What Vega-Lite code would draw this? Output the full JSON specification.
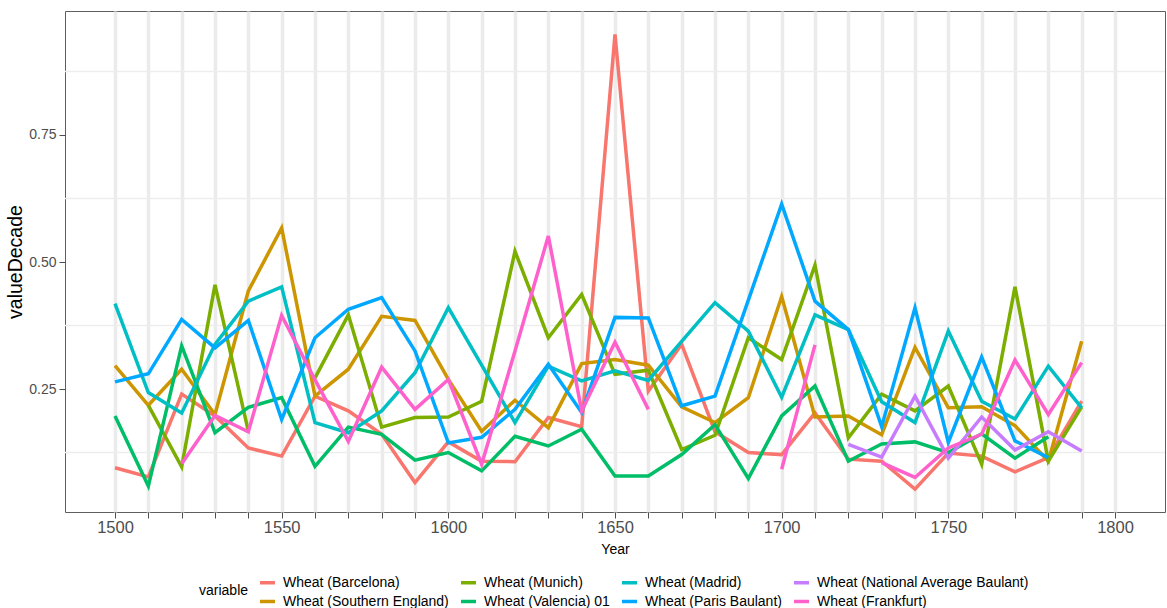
{
  "$schema": "https://vega.github.io/schema/vega-lite/v6.json",
  "width": 1100,
  "height": 501,
  "autosize": {"type": "none"},
  "padding": {"left": 65, "top": 11, "right": 2, "bottom": 96},
  "background": "white",
  "config": {
    "font": "Liberation Sans",
    "view": {"stroke": "#5e5e5e", "strokeWidth": 1}
  },
  "resolve": {"axis": {"y": "independent"}},
  "datasets": {
    "minor": [{"grid": 0.125}, {"grid": 0.375}, {"grid": 0.625}, {"grid": 0.875}],
    "prices": [
      {"Year": 1500, "variable": "Wheat (Barcelona)", "valueDecade": 0.095},
      {"Year": 1510, "variable": "Wheat (Barcelona)", "valueDecade": 0.077},
      {"Year": 1520, "variable": "Wheat (Barcelona)", "valueDecade": 0.240},
      {"Year": 1530, "variable": "Wheat (Barcelona)", "valueDecade": 0.197},
      {"Year": 1540, "variable": "Wheat (Barcelona)", "valueDecade": 0.134},
      {"Year": 1550, "variable": "Wheat (Barcelona)", "valueDecade": 0.118},
      {"Year": 1560, "variable": "Wheat (Barcelona)", "valueDecade": 0.236},
      {"Year": 1570, "variable": "Wheat (Barcelona)", "valueDecade": 0.207},
      {"Year": 1580, "variable": "Wheat (Barcelona)", "valueDecade": 0.161},
      {"Year": 1590, "variable": "Wheat (Barcelona)", "valueDecade": 0.066},
      {"Year": 1600, "variable": "Wheat (Barcelona)", "valueDecade": 0.146},
      {"Year": 1610, "variable": "Wheat (Barcelona)", "valueDecade": 0.108},
      {"Year": 1620, "variable": "Wheat (Barcelona)", "valueDecade": 0.107},
      {"Year": 1630, "variable": "Wheat (Barcelona)", "valueDecade": 0.194},
      {"Year": 1640, "variable": "Wheat (Barcelona)", "valueDecade": 0.176},
      {"Year": 1650, "variable": "Wheat (Barcelona)", "valueDecade": 0.948},
      {"Year": 1660, "variable": "Wheat (Barcelona)", "valueDecade": 0.246},
      {"Year": 1670, "variable": "Wheat (Barcelona)", "valueDecade": 0.338},
      {"Year": 1680, "variable": "Wheat (Barcelona)", "valueDecade": 0.166},
      {"Year": 1690, "variable": "Wheat (Barcelona)", "valueDecade": 0.125},
      {"Year": 1700, "variable": "Wheat (Barcelona)", "valueDecade": 0.121},
      {"Year": 1710, "variable": "Wheat (Barcelona)", "valueDecade": 0.203},
      {"Year": 1720, "variable": "Wheat (Barcelona)", "valueDecade": 0.112},
      {"Year": 1730, "variable": "Wheat (Barcelona)", "valueDecade": 0.108},
      {"Year": 1740, "variable": "Wheat (Barcelona)", "valueDecade": 0.053},
      {"Year": 1750, "variable": "Wheat (Barcelona)", "valueDecade": 0.124},
      {"Year": 1760, "variable": "Wheat (Barcelona)", "valueDecade": 0.118},
      {"Year": 1770, "variable": "Wheat (Barcelona)", "valueDecade": 0.087},
      {"Year": 1780, "variable": "Wheat (Barcelona)", "valueDecade": 0.115},
      {"Year": 1790, "variable": "Wheat (Barcelona)", "valueDecade": 0.226},

      {"Year": 1500, "variable": "Wheat (Southern England)", "valueDecade": 0.296},
      {"Year": 1510, "variable": "Wheat (Southern England)", "valueDecade": 0.218},
      {"Year": 1520, "variable": "Wheat (Southern England)", "valueDecade": 0.289},
      {"Year": 1530, "variable": "Wheat (Southern England)", "valueDecade": 0.200},
      {"Year": 1540, "variable": "Wheat (Southern England)", "valueDecade": 0.443},
      {"Year": 1550, "variable": "Wheat (Southern England)", "valueDecade": 0.567},
      {"Year": 1560, "variable": "Wheat (Southern England)", "valueDecade": 0.236},
      {"Year": 1570, "variable": "Wheat (Southern England)", "valueDecade": 0.289},
      {"Year": 1580, "variable": "Wheat (Southern England)", "valueDecade": 0.393},
      {"Year": 1590, "variable": "Wheat (Southern England)", "valueDecade": 0.385},
      {"Year": 1600, "variable": "Wheat (Southern England)", "valueDecade": 0.269},
      {"Year": 1610, "variable": "Wheat (Southern England)", "valueDecade": 0.167},
      {"Year": 1620, "variable": "Wheat (Southern England)", "valueDecade": 0.228},
      {"Year": 1630, "variable": "Wheat (Southern England)", "valueDecade": 0.174},
      {"Year": 1640, "variable": "Wheat (Southern England)", "valueDecade": 0.300},
      {"Year": 1650, "variable": "Wheat (Southern England)", "valueDecade": 0.308},
      {"Year": 1660, "variable": "Wheat (Southern England)", "valueDecade": 0.297},
      {"Year": 1670, "variable": "Wheat (Southern England)", "valueDecade": 0.215},
      {"Year": 1680, "variable": "Wheat (Southern England)", "valueDecade": 0.184},
      {"Year": 1690, "variable": "Wheat (Southern England)", "valueDecade": 0.233},
      {"Year": 1700, "variable": "Wheat (Southern England)", "valueDecade": 0.432},
      {"Year": 1710, "variable": "Wheat (Southern England)", "valueDecade": 0.195},
      {"Year": 1720, "variable": "Wheat (Southern England)", "valueDecade": 0.197},
      {"Year": 1730, "variable": "Wheat (Southern England)", "valueDecade": 0.160},
      {"Year": 1740, "variable": "Wheat (Southern England)", "valueDecade": 0.332},
      {"Year": 1750, "variable": "Wheat (Southern England)", "valueDecade": 0.213},
      {"Year": 1760, "variable": "Wheat (Southern England)", "valueDecade": 0.215},
      {"Year": 1770, "variable": "Wheat (Southern England)", "valueDecade": 0.178},
      {"Year": 1780, "variable": "Wheat (Southern England)", "valueDecade": 0.108},
      {"Year": 1790, "variable": "Wheat (Southern England)", "valueDecade": 0.344},

      {"Year": 1510, "variable": "Wheat (Munich)", "valueDecade": 0.218},
      {"Year": 1520, "variable": "Wheat (Munich)", "valueDecade": 0.097},
      {"Year": 1530, "variable": "Wheat (Munich)", "valueDecade": 0.455},
      {"Year": 1540, "variable": "Wheat (Munich)", "valueDecade": 0.167},
      {"Year": 1550, "variable": "Wheat (Munich)", "valueDecade": null},
      {"Year": 1560, "variable": "Wheat (Munich)", "valueDecade": 0.272},
      {"Year": 1570, "variable": "Wheat (Munich)", "valueDecade": 0.396},
      {"Year": 1580, "variable": "Wheat (Munich)", "valueDecade": 0.175},
      {"Year": 1590, "variable": "Wheat (Munich)", "valueDecade": 0.194},
      {"Year": 1600, "variable": "Wheat (Munich)", "valueDecade": 0.195},
      {"Year": 1610, "variable": "Wheat (Munich)", "valueDecade": 0.226},
      {"Year": 1620, "variable": "Wheat (Munich)", "valueDecade": 0.521},
      {"Year": 1630, "variable": "Wheat (Munich)", "valueDecade": 0.351},
      {"Year": 1640, "variable": "Wheat (Munich)", "valueDecade": 0.436},
      {"Year": 1650, "variable": "Wheat (Munich)", "valueDecade": 0.279},
      {"Year": 1660, "variable": "Wheat (Munich)", "valueDecade": 0.287},
      {"Year": 1670, "variable": "Wheat (Munich)", "valueDecade": 0.131},
      {"Year": 1680, "variable": "Wheat (Munich)", "valueDecade": 0.159},
      {"Year": 1690, "variable": "Wheat (Munich)", "valueDecade": 0.351},
      {"Year": 1700, "variable": "Wheat (Munich)", "valueDecade": 0.308},
      {"Year": 1710, "variable": "Wheat (Munich)", "valueDecade": 0.494},
      {"Year": 1720, "variable": "Wheat (Munich)", "valueDecade": 0.154},
      {"Year": 1730, "variable": "Wheat (Munich)", "valueDecade": 0.240},
      {"Year": 1740, "variable": "Wheat (Munich)", "valueDecade": 0.207},
      {"Year": 1750, "variable": "Wheat (Munich)", "valueDecade": 0.256},
      {"Year": 1760, "variable": "Wheat (Munich)", "valueDecade": 0.102},
      {"Year": 1770, "variable": "Wheat (Munich)", "valueDecade": 0.451},
      {"Year": 1780, "variable": "Wheat (Munich)", "valueDecade": 0.108},
      {"Year": 1790, "variable": "Wheat (Munich)", "valueDecade": 0.215},

      {"Year": 1500, "variable": "Wheat (Valencia) 01", "valueDecade": 0.197},
      {"Year": 1510, "variable": "Wheat (Valencia) 01", "valueDecade": 0.059},
      {"Year": 1520, "variable": "Wheat (Valencia) 01", "valueDecade": 0.335},
      {"Year": 1530, "variable": "Wheat (Valencia) 01", "valueDecade": 0.164},
      {"Year": 1540, "variable": "Wheat (Valencia) 01", "valueDecade": 0.214},
      {"Year": 1550, "variable": "Wheat (Valencia) 01", "valueDecade": 0.233},
      {"Year": 1560, "variable": "Wheat (Valencia) 01", "valueDecade": 0.098},
      {"Year": 1570, "variable": "Wheat (Valencia) 01", "valueDecade": 0.175},
      {"Year": 1580, "variable": "Wheat (Valencia) 01", "valueDecade": 0.161},
      {"Year": 1590, "variable": "Wheat (Valencia) 01", "valueDecade": 0.110},
      {"Year": 1600, "variable": "Wheat (Valencia) 01", "valueDecade": 0.125},
      {"Year": 1610, "variable": "Wheat (Valencia) 01", "valueDecade": 0.089},
      {"Year": 1620, "variable": "Wheat (Valencia) 01", "valueDecade": 0.157},
      {"Year": 1630, "variable": "Wheat (Valencia) 01", "valueDecade": 0.138},
      {"Year": 1640, "variable": "Wheat (Valencia) 01", "valueDecade": 0.171},
      {"Year": 1650, "variable": "Wheat (Valencia) 01", "valueDecade": 0.079},
      {"Year": 1660, "variable": "Wheat (Valencia) 01", "valueDecade": 0.079},
      {"Year": 1670, "variable": "Wheat (Valencia) 01", "valueDecade": 0.121},
      {"Year": 1680, "variable": "Wheat (Valencia) 01", "valueDecade": 0.180},
      {"Year": 1690, "variable": "Wheat (Valencia) 01", "valueDecade": 0.074},
      {"Year": 1700, "variable": "Wheat (Valencia) 01", "valueDecade": 0.197},
      {"Year": 1710, "variable": "Wheat (Valencia) 01", "valueDecade": 0.256},
      {"Year": 1720, "variable": "Wheat (Valencia) 01", "valueDecade": 0.108},
      {"Year": 1730, "variable": "Wheat (Valencia) 01", "valueDecade": 0.142},
      {"Year": 1740, "variable": "Wheat (Valencia) 01", "valueDecade": 0.146},
      {"Year": 1750, "variable": "Wheat (Valencia) 01", "valueDecade": 0.125},
      {"Year": 1760, "variable": "Wheat (Valencia) 01", "valueDecade": 0.162},
      {"Year": 1770, "variable": "Wheat (Valencia) 01", "valueDecade": 0.114},
      {"Year": 1780, "variable": "Wheat (Valencia) 01", "valueDecade": 0.156},

      {"Year": 1500, "variable": "Wheat (Madrid)", "valueDecade": 0.418},
      {"Year": 1510, "variable": "Wheat (Madrid)", "valueDecade": 0.243},
      {"Year": 1520, "variable": "Wheat (Madrid)", "valueDecade": 0.203},
      {"Year": 1530, "variable": "Wheat (Madrid)", "valueDecade": 0.338},
      {"Year": 1540, "variable": "Wheat (Madrid)", "valueDecade": 0.423},
      {"Year": 1550, "variable": "Wheat (Madrid)", "valueDecade": 0.451},
      {"Year": 1560, "variable": "Wheat (Madrid)", "valueDecade": 0.184},
      {"Year": 1570, "variable": "Wheat (Madrid)", "valueDecade": 0.164},
      {"Year": 1580, "variable": "Wheat (Madrid)", "valueDecade": 0.207},
      {"Year": 1590, "variable": "Wheat (Madrid)", "valueDecade": 0.282},
      {"Year": 1600, "variable": "Wheat (Madrid)", "valueDecade": 0.410},
      {"Year": 1610, "variable": "Wheat (Madrid)", "valueDecade": 0.297},
      {"Year": 1620, "variable": "Wheat (Madrid)", "valueDecade": 0.184},
      {"Year": 1630, "variable": "Wheat (Madrid)", "valueDecade": 0.295},
      {"Year": 1640, "variable": "Wheat (Madrid)", "valueDecade": 0.266},
      {"Year": 1650, "variable": "Wheat (Madrid)", "valueDecade": 0.286},
      {"Year": 1660, "variable": "Wheat (Madrid)", "valueDecade": 0.267},
      {"Year": 1670, "variable": "Wheat (Madrid)", "valueDecade": 0.344},
      {"Year": 1680, "variable": "Wheat (Madrid)", "valueDecade": 0.420},
      {"Year": 1690, "variable": "Wheat (Madrid)", "valueDecade": 0.364},
      {"Year": 1700, "variable": "Wheat (Madrid)", "valueDecade": 0.234},
      {"Year": 1710, "variable": "Wheat (Madrid)", "valueDecade": 0.396},
      {"Year": 1720, "variable": "Wheat (Madrid)", "valueDecade": 0.367},
      {"Year": 1730, "variable": "Wheat (Madrid)", "valueDecade": 0.225},
      {"Year": 1740, "variable": "Wheat (Madrid)", "valueDecade": 0.184},
      {"Year": 1750, "variable": "Wheat (Madrid)", "valueDecade": 0.364},
      {"Year": 1760, "variable": "Wheat (Madrid)", "valueDecade": 0.226},
      {"Year": 1770, "variable": "Wheat (Madrid)", "valueDecade": 0.191},
      {"Year": 1780, "variable": "Wheat (Madrid)", "valueDecade": 0.295},
      {"Year": 1790, "variable": "Wheat (Madrid)", "valueDecade": 0.213},

      {"Year": 1500, "variable": "Wheat (Paris Baulant)", "valueDecade": 0.264},
      {"Year": 1510, "variable": "Wheat (Paris Baulant)", "valueDecade": 0.280},
      {"Year": 1520, "variable": "Wheat (Paris Baulant)", "valueDecade": 0.387},
      {"Year": 1530, "variable": "Wheat (Paris Baulant)", "valueDecade": 0.331},
      {"Year": 1540, "variable": "Wheat (Paris Baulant)", "valueDecade": 0.385},
      {"Year": 1550, "variable": "Wheat (Paris Baulant)", "valueDecade": 0.190},
      {"Year": 1560, "variable": "Wheat (Paris Baulant)", "valueDecade": 0.351},
      {"Year": 1570, "variable": "Wheat (Paris Baulant)", "valueDecade": 0.407},
      {"Year": 1580, "variable": "Wheat (Paris Baulant)", "valueDecade": 0.430},
      {"Year": 1590, "variable": "Wheat (Paris Baulant)", "valueDecade": 0.325},
      {"Year": 1600, "variable": "Wheat (Paris Baulant)", "valueDecade": 0.144},
      {"Year": 1610, "variable": "Wheat (Paris Baulant)", "valueDecade": 0.155},
      {"Year": 1620, "variable": "Wheat (Paris Baulant)", "valueDecade": 0.210},
      {"Year": 1630, "variable": "Wheat (Paris Baulant)", "valueDecade": 0.299},
      {"Year": 1640, "variable": "Wheat (Paris Baulant)", "valueDecade": 0.204},
      {"Year": 1650, "variable": "Wheat (Paris Baulant)", "valueDecade": 0.391},
      {"Year": 1660, "variable": "Wheat (Paris Baulant)", "valueDecade": 0.390},
      {"Year": 1670, "variable": "Wheat (Paris Baulant)", "valueDecade": 0.217},
      {"Year": 1680, "variable": "Wheat (Paris Baulant)", "valueDecade": 0.236},
      {"Year": 1690, "variable": "Wheat (Paris Baulant)", "valueDecade": 0.425},
      {"Year": 1700, "variable": "Wheat (Paris Baulant)", "valueDecade": 0.614},
      {"Year": 1710, "variable": "Wheat (Paris Baulant)", "valueDecade": 0.423},
      {"Year": 1720, "variable": "Wheat (Paris Baulant)", "valueDecade": 0.367},
      {"Year": 1730, "variable": "Wheat (Paris Baulant)", "valueDecade": 0.176},
      {"Year": 1740, "variable": "Wheat (Paris Baulant)", "valueDecade": 0.410},
      {"Year": 1750, "variable": "Wheat (Paris Baulant)", "valueDecade": 0.145},
      {"Year": 1760, "variable": "Wheat (Paris Baulant)", "valueDecade": 0.313},
      {"Year": 1770, "variable": "Wheat (Paris Baulant)", "valueDecade": 0.148},
      {"Year": 1780, "variable": "Wheat (Paris Baulant)", "valueDecade": 0.115},

      {"Year": 1720, "variable": "Wheat (National Average Baulant)", "valueDecade": 0.141},
      {"Year": 1730, "variable": "Wheat (National Average Baulant)", "valueDecade": 0.116},
      {"Year": 1740, "variable": "Wheat (National Average Baulant)", "valueDecade": 0.236},
      {"Year": 1750, "variable": "Wheat (National Average Baulant)", "valueDecade": 0.114},
      {"Year": 1760, "variable": "Wheat (National Average Baulant)", "valueDecade": 0.195},
      {"Year": 1770, "variable": "Wheat (National Average Baulant)", "valueDecade": 0.130},
      {"Year": 1780, "variable": "Wheat (National Average Baulant)", "valueDecade": 0.166},
      {"Year": 1790, "variable": "Wheat (National Average Baulant)", "valueDecade": 0.128},

      {"Year": 1520, "variable": "Wheat (Frankfurt)", "valueDecade": 0.103},
      {"Year": 1530, "variable": "Wheat (Frankfurt)", "valueDecade": 0.198},
      {"Year": 1540, "variable": "Wheat (Frankfurt)", "valueDecade": 0.166},
      {"Year": 1550, "variable": "Wheat (Frankfurt)", "valueDecade": 0.395},
      {"Year": 1560, "variable": "Wheat (Frankfurt)", "valueDecade": 0.268},
      {"Year": 1570, "variable": "Wheat (Frankfurt)", "valueDecade": 0.147},
      {"Year": 1580, "variable": "Wheat (Frankfurt)", "valueDecade": 0.293},
      {"Year": 1590, "variable": "Wheat (Frankfurt)", "valueDecade": 0.210},
      {"Year": 1600, "variable": "Wheat (Frankfurt)", "valueDecade": 0.269},
      {"Year": 1610, "variable": "Wheat (Frankfurt)", "valueDecade": 0.102},
      {"Year": 1620, "variable": "Wheat (Frankfurt)", "valueDecade": 0.325},
      {"Year": 1630, "variable": "Wheat (Frankfurt)", "valueDecade": 0.551},
      {"Year": 1640, "variable": "Wheat (Frankfurt)", "valueDecade": 0.207},
      {"Year": 1650, "variable": "Wheat (Frankfurt)", "valueDecade": 0.342},
      {"Year": 1660, "variable": "Wheat (Frankfurt)", "valueDecade": 0.210},
      {"Year": 1670, "variable": "Wheat (Frankfurt)", "valueDecade": null},
      {"Year": 1700, "variable": "Wheat (Frankfurt)", "valueDecade": 0.092},
      {"Year": 1710, "variable": "Wheat (Frankfurt)", "valueDecade": 0.337},
      {"Year": 1720, "variable": "Wheat (Frankfurt)", "valueDecade": null},
      {"Year": 1730, "variable": "Wheat (Frankfurt)", "valueDecade": 0.105},
      {"Year": 1740, "variable": "Wheat (Frankfurt)", "valueDecade": 0.076},
      {"Year": 1750, "variable": "Wheat (Frankfurt)", "valueDecade": 0.134},
      {"Year": 1760, "variable": "Wheat (Frankfurt)", "valueDecade": 0.161},
      {"Year": 1770, "variable": "Wheat (Frankfurt)", "valueDecade": 0.307},
      {"Year": 1780, "variable": "Wheat (Frankfurt)", "valueDecade": 0.200},
      {"Year": 1790, "variable": "Wheat (Frankfurt)", "valueDecade": 0.302}
    ]
  },
  "layer": [
    {
      "data": {"name": "minor"},
      "mark": {"type": "rule", "color": "#EDEDED", "strokeWidth": 1.5},
      "encoding": {
        "y": {"field": "grid", "type": "quantitative", "scale": {"domain": [0.008, 0.994]}, "axis": null}
      }
    },
    {
      "data": {"name": "prices"},
      "mark": {"type": "line", "strokeWidth": 3.5, "invalid": "break-paths-filter-domains"},
      "encoding": {
        "x": {
          "field": "Year", "type": "quantitative",
          "scale": {"domain": [1485, 1815], "nice": false, "zero": false},
          "axis": {
            "title": "Year",
            "values": [1500, 1510, 1520, 1530, 1540, 1550, 1560, 1570, 1580, 1590, 1600, 1610, 1620, 1630, 1640, 1650, 1660, 1670, 1680, 1690, 1700, 1710, 1720, 1730, 1740, 1750, 1760, 1770, 1780, 1790, 1800],
            "format": "d",
            "labelExpr": "datum.value % 50 == 0 ? datum.label : ''",
            "labelOverlap": false,
            "labelFlush": false,
            "labelFontSize": 16.5,
            "labelColor": "#4D4D4D",
            "labelPadding": 1,
            "tickSize": 6,
            "tickColor": "#4D4D4D",
            "domain": false,
            "gridColor": "#EBEBEB",
            "gridWidth": 3.5,
            "titleFontSize": 14,
            "titleFontWeight": "normal",
            "titleColor": "#000000",
            "titlePadding": 7
          }
        },
        "y": {
          "field": "valueDecade", "type": "quantitative",
          "scale": {"domain": [0.008, 0.994], "nice": false, "zero": false},
          "axis": {
            "orient": "left",
            "title": "valueDecade",
            "values": [0.25, 0.5, 0.75],
            "format": ".2f",
            "labelFontSize": 14,
            "labelColor": "#4D4D4D",
            "labelPadding": 3,
            "tickSize": 6,
            "tickColor": "#4D4D4D",
            "domain": false,
            "gridColor": "#EBEBEB",
            "gridWidth": 3,
            "titleFontSize": 19.5,
            "titleFontWeight": "normal",
            "titleColor": "#000000",
            "titlePadding": 3
          }
        },
        "color": {
          "field": "variable", "type": "nominal",
          "scale": {
            "domain": ["Wheat (Barcelona)", "Wheat (Munich)", "Wheat (Madrid)", "Wheat (National Average Baulant)", "Wheat (Southern England)", "Wheat (Valencia) 01", "Wheat (Paris Baulant)", "Wheat (Frankfurt)"],
            "range": ["#F8766D", "#7CAE00", "#00BFC4", "#C77CFF", "#CD9600", "#00BE67", "#00A9FF", "#FF61CC"]
          },
          "legend": {
            "title": "variable",
            "orient": "none",
            "legendX": 134,
            "legendY": 562,
            "direction": "horizontal",
            "columns": 4,
            "titleOrient": "left",
            "titleAnchor": "middle",
            "titleBaseline": "middle",
            "titleFontSize": 14,
            "titleFontWeight": "normal",
            "titleColor": "#000000",
            "titlePadding": 9,
            "labelFontSize": 14,
            "labelColor": "#000000",
            "labelLimit": 0,
            "labelOffset": 6,
            "symbolType": "stroke",
            "symbolStrokeWidth": 3.5,
            "symbolSize": 225,
            "columnPadding": 5,
            "rowPadding": 2
          }
        }
      }
    }
  ]
}
